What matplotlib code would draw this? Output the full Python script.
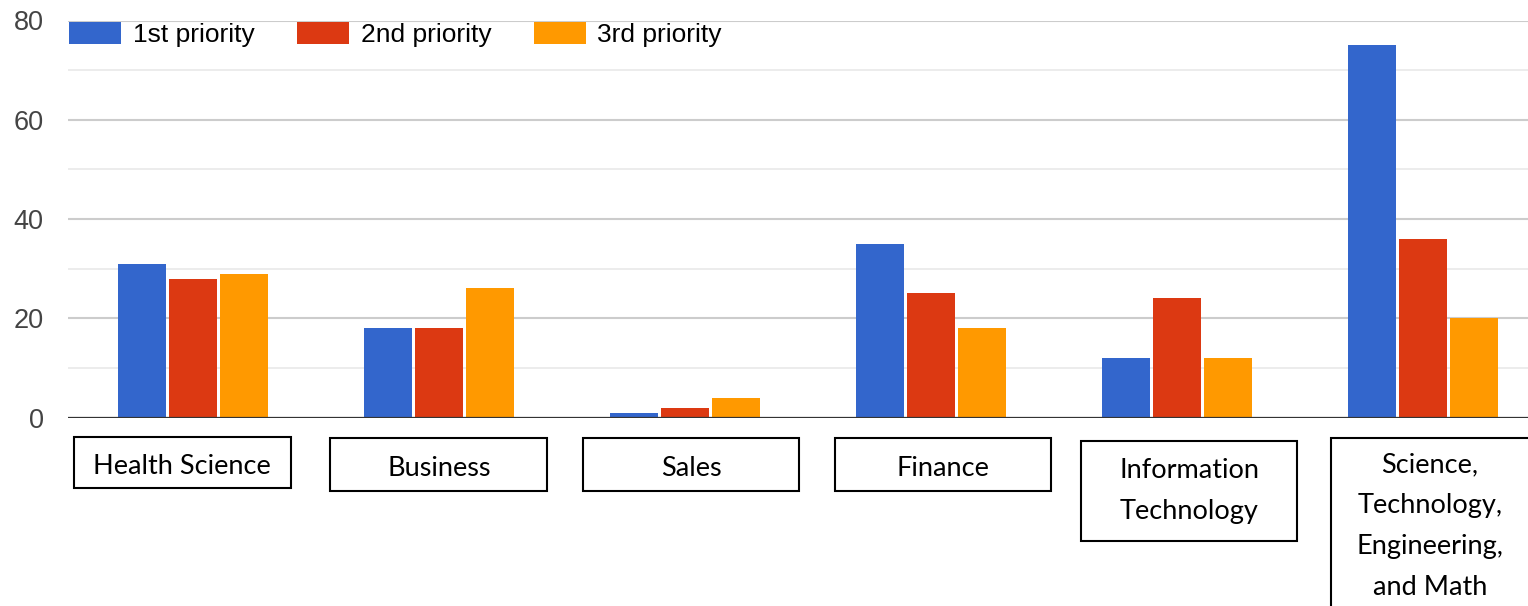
import numpy as np
import matplotlib.pyplot as plt
from matplotlib.patches import Rectangle

# data
categories = ["Health Science", "Business", "Sales", "Finance",
              "Information\nTechnology",
              "Science,\nTechnology,\nEngineering,\nand Math"]
first = [31, 18, 1, 35, 12, 75]
second = [28, 18, 2, 25, 24, 36]
third = [29, 26, 4, 18, 12, 20]
series_names = ["1st priority", "2nd priority", "3rd priority"]
colors = ["#3366CC", "#DC3912", "#FF9900"]

W, H = 1528, 606
fig = plt.figure(figsize=(W/100, H/100), dpi=100)

def fx(px):
    return px / W

def fy(py):
    return 1 - py / H

ax = fig.add_axes([fx(68), fy(417.5), 1 - fx(68), fy(20.5) - fy(417.5)])

x = np.arange(len(categories))
w = 0.197
off = 0.207
for i, vals in enumerate([first, second, third]):
    ax.bar(x + (i - 1)*off, vals, w, color=colors[i], label=series_names[i], zorder=2)

ax.set_xlim(-0.508, 5.427)
ax.set_ylim(0, 80)
ax.set_yticks([0, 20, 40, 60, 80])
ax.set_yticks([10, 30, 50, 70], minor=True)
ax.grid(axis='y', which='major', color='#cccccc', linewidth=1.5, zorder=0)
ax.grid(axis='y', which='minor', color='#ebebeb', linewidth=1.3, zorder=0)
ax.set_axisbelow(True)
ax.axhline(0, color='#333333', linewidth=1.6, zorder=3)
for s in ax.spines.values():
    s.set_visible(False)
ax.set_xticks([])
ax.tick_params(axis='y', which='both', length=0, pad=17.5, labelsize=19.5,
               labelcolor='#444444')
for lab in ax.get_yticklabels():
    lab.set_family('Liberation Sans')

fig.legend(loc='upper left', bbox_to_anchor=(fx(69), fy(22)), ncol=3,
           frameon=False, borderpad=0, borderaxespad=0,
           handlelength=1.97, handleheight=0.91, handletextpad=0.45,
           columnspacing=1.6, prop={'family': 'Liberation Sans', 'size': 19})

# boxed category labels under the chart
boxes = [(74, 437, 217, 51), (330, 438, 217, 53), (583, 438, 216, 53),
         (835, 438, 216, 53), (1081, 441, 216, 100), (1331, 438, 216, 200)]
centers = [(182, 467), (439, 469), (691, 469), (943, 469), (1189, 491), (1430, 526)]
for name, (bx, by, bw, bh), (cx, cy) in zip(categories, boxes, centers):
    fig.patches.append(Rectangle((fx(bx), fy(by + bh)), bw / W, bh / H,
                                 transform=fig.transFigure, facecolor='white',
                                 edgecolor='black', linewidth=1.5))
    fig.text(fx(cx), fy(cy), name, ha='center', va='center', fontsize=19.5,
             family='Lato', linespacing=1.8)

plt.savefig("out.png", dpi=100)
